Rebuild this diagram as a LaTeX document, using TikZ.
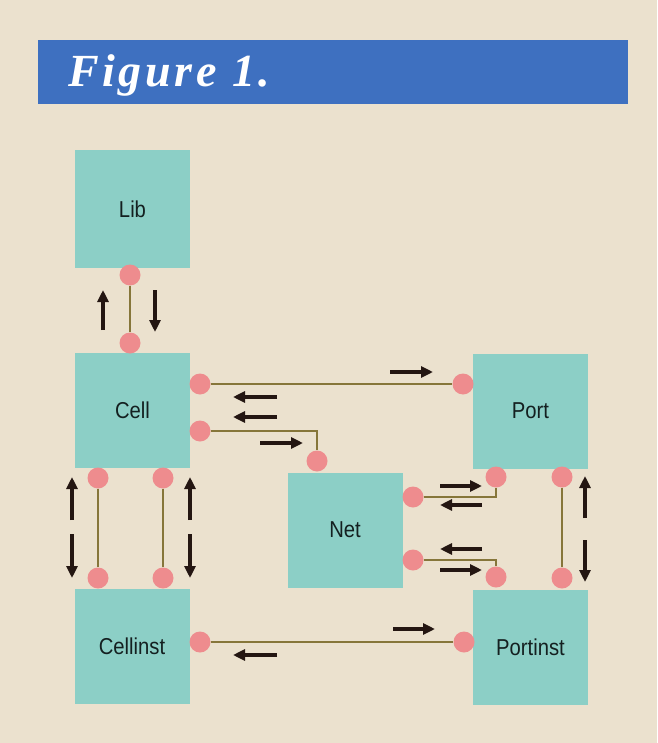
\documentclass[tikz,border=0pt]{standalone}
\usepackage{fontspec}
\newfontfamily\labfont[FakeStretch=0.88]{Liberation Sans}
\newfontfamily\titlefont[LetterSpace=8]{Liberation Serif}
\usetikzlibrary{arrows.meta}
\definecolor{bg}{HTML}{EBE1CE}
\definecolor{barblue}{HTML}{3E70C0}
\definecolor{boxteal}{HTML}{8CCFC6}
\definecolor{dotpink}{HTML}{EE8C8E}
\definecolor{wirecol}{HTML}{86763A}
\definecolor{arrcol}{HTML}{241612}
\definecolor{txtcol}{HTML}{142020}
\tikzset{
  box/.style={rectangle, fill=boxteal, minimum width=115pt, minimum height=115pt, inner sep=0pt,
    text=txtcol, font=\labfont\fontsize{23}{23}\selectfont},
  dot/.style={circle, fill=dotpink, minimum size=21pt, inner sep=0pt},
  wire/.style={draw=wirecol, line width=2.2pt},
  arr/.style={draw=arrcol, line width=3.4pt, -{Triangle[length=12pt,width=11pt]}}
}
\begin{document}
\begin{tikzpicture}[x=1pt,y=-1pt]
\fill[bg] (0,0) rectangle (657,743);
\useasboundingbox (0,0) rectangle (657,743);
\fill[barblue] (38,40) rectangle (628,104);
\node[anchor=base west, text=white, inner sep=0pt,
  font=\titlefont\bfseries\itshape\fontsize{46}{46}\selectfont] (title) at (68,87) {Figure 1.};

% boxes
\node[box, minimum height=118pt] (lib) at (132.5,209) {Lib};
\node[box] (cell) at (132.5,410.5) {Cell};
\node[box] (cellinst) at (132,646.5) {Cellinst};
\node[box] (net) at (345,530) {Net};
\node[box] (port) at (530.5,411) {Port};
\node[box] (portinst) at (530.5,647) {Portinst};

% dots
\node[dot] (lb) at (130,275) {};
\node[dot] (ct) at (130,343) {};
\node[dot] (cr1) at (200,384) {};
\node[dot] (cr2) at (200,431) {};
\node[dot] (pl) at (463,384) {};
\node[dot] (nt) at (317,461) {};
\node[dot] (nr1) at (413,497) {};
\node[dot] (nr2) at (413,560) {};
\node[dot] (pb1) at (496,477) {};
\node[dot] (pb2) at (562,477) {};
\node[dot] (pit1) at (496,577) {};
\node[dot] (pit2) at (562,578) {};
\node[dot] (cb1) at (98,478) {};
\node[dot] (cb2) at (163,478) {};
\node[dot] (cit1) at (98,578) {};
\node[dot] (cit2) at (163,578) {};
\node[dot] (cir) at (200,642) {};
\node[dot] (pil) at (464,642) {};

% wires
\draw[wire] (lb) -- (ct);
\draw[wire] (cr1) -- (pl);
\draw[wire] (cr2) -| (nt);
\draw[wire] (nr1) -| (pb1);
\draw[wire] (nr2) -| (pit1);
\draw[wire] (pb2) -- (pit2);
\draw[wire] (cb1) -- (cit1);
\draw[wire] (cb2) -- (cit2);
\draw[wire] (cir) -- (pil);

% arrows
\draw[arr] (103,330) -- (103,290);
\draw[arr] (155,290) -- (155,332);
\draw[arr] (390,372) -- (433,372);
\draw[arr] (277,397) -- (233,397);
\draw[arr] (277,417) -- (233,417);
\draw[arr] (260,443) -- (303,443);
\draw[arr] (440,486) -- (482,486);
\draw[arr] (482,505) -- (440,505);
\draw[arr] (482,549) -- (440,549);
\draw[arr] (440,570) -- (482,570);
\draw[arr] (72,520) -- (72,477);
\draw[arr] (72,534) -- (72,578);
\draw[arr] (190,520) -- (190,477);
\draw[arr] (190,534) -- (190,578);
\draw[arr] (585,518) -- (585,476);
\draw[arr] (585,540) -- (585,582);
\draw[arr] (393,629) -- (435,629);
\draw[arr] (277,655) -- (233,655);
\end{tikzpicture}
\end{document}
